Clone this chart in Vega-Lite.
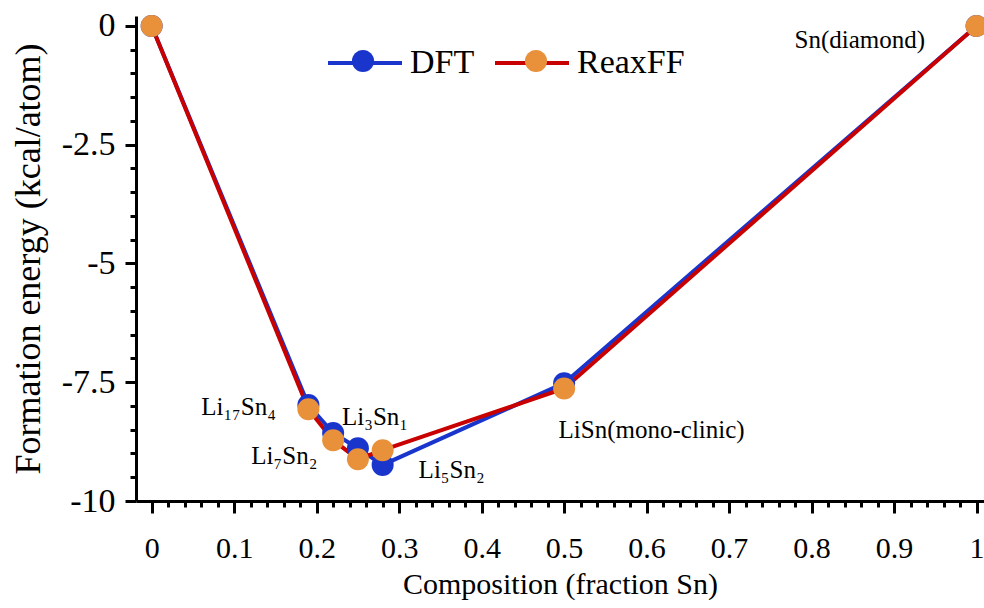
{
  "$schema": "https://vega.github.io/schema/vega-lite/v6.json",
  "width": 848,
  "height": 485,
  "autosize": {"type": "none"},
  "padding": {"left": 136, "top": 16, "right": 0, "bottom": 107},
  "background": "white",
  "config": {
    "view": {"stroke": null},
    "font": "Liberation Serif",
    "style": {
      "guide-label": {"font": "Liberation Serif", "fill": "black"},
      "guide-title": {"font": "Liberation Serif", "fill": "black", "fontWeight": "normal"}
    },
    "axis": {"labelFont": "Liberation Serif", "titleFont": "Liberation Serif", "titleFontWeight": "normal", "domainColor": "black", "tickColor": "black", "labelColor": "black", "titleColor": "black", "grid": false},
    "legend": {"labelFont": "Liberation Serif"}
  },
  "encoding": {
    "x": {"field": "x", "type": "quantitative",
      "scale": {"domain": [-0.019, 1.009], "nice": false, "zero": false},
      "axis": {
        "title": "Composition (fraction Sn)",
        "titleFont": "Liberation Serif", "titleFontSize": 30, "titlePadding": 6,
        "values": [0,0.02,0.04,0.06,0.08,0.1,0.12,0.14,0.16,0.18,0.2,0.22,0.24,0.26,0.28,0.3,0.32,0.34,0.36,0.38,0.4,0.42,0.44,0.46,0.48,0.5,0.52,0.54,0.56,0.58,0.6,0.62,0.64,0.66,0.68,0.7,0.72,0.74,0.76,0.78,0.8,0.82,0.84,0.86,0.88,0.9,0.92,0.94,0.96,0.98,1],
        "labelExpr": "round(datum.value*100) % 10 == 0 ? '' + datum.value : ''",
        "labelFont": "Liberation Serif", "labelFontSize": 30, "labelPadding": 20, "labelFlush": false, "labelOverlap": false,
        "domainWidth": 3,
        "tickWidth": 3,
        "tickSize": {"condition": {"test": "round(datum.value*100) % 10 == 0", "value": 12}, "value": 6}
      }},
    "y": {"field": "y", "type": "quantitative",
      "scale": {"domain": [-10, 0.21], "nice": false, "zero": false},
      "axis": {
        "title": "Formation energy (kcal/atom)",
        "titleFont": "Liberation Serif", "titleFontSize": 36, "titlePadding": 14,
        "values": [0,-0.5,-1,-1.5,-2,-2.5,-3,-3.5,-4,-4.5,-5,-5.5,-6,-6.5,-7,-7.5,-8,-8.5,-9,-9.5,-10],
        "labelExpr": "datum.value % 2.5 == 0 ? '' + datum.value : ''",
        "labelFont": "Liberation Serif", "labelFontSize": 34, "labelPadding": 10, "labelFlush": false, "labelOverlap": false,
        "domainWidth": 3,
        "tickWidth": 3,
        "tickSize": {"condition": {"test": "datum.value % 2.5 == 0", "value": 11}, "value": 6}
      }}
  },
  "layer": [
    {
      "data": {"values": [
        {"x": 0, "y": 0, "series": "DFT"},
        {"x": 0.19, "y": -7.98, "series": "DFT"},
        {"x": 0.22, "y": -8.57, "series": "DFT"},
        {"x": 0.25, "y": -8.89, "series": "DFT"},
        {"x": 0.28, "y": -9.24, "series": "DFT"},
        {"x": 0.5, "y": -7.52, "series": "DFT"},
        {"x": 1, "y": 0, "series": "DFT"},
        {"x": 0, "y": 0, "series": "ReaxFF"},
        {"x": 0.19, "y": -8.07, "series": "ReaxFF"},
        {"x": 0.22, "y": -8.72, "series": "ReaxFF"},
        {"x": 0.25, "y": -9.12, "series": "ReaxFF"},
        {"x": 0.28, "y": -8.93, "series": "ReaxFF"},
        {"x": 0.5, "y": -7.63, "series": "ReaxFF"},
        {"x": 1, "y": 0, "series": "ReaxFF"}
      ]},
      "layer": [
        {
          "mark": {"type": "line", "strokeWidth": 4},
          "encoding": {
            "color": {"field": "series", "type": "nominal",
              "scale": {"range": ["#1a35cc", "#c80000"]},
              "legend": {"orient": "none", "legendX": 190, "legendY": 8, "direction": "horizontal", "title": null,
                "symbolType": "stroke", "symbolSize": 5476, "symbolStrokeWidth": 4,
                "labelFont": "Liberation Serif", "labelFontSize": 34, "labelColor": "black", "labelOffset": 6, "columnPadding": 12, "padding": 0}}
          }
        },
        {
          "mark": {"type": "point", "filled": true, "size": 484, "opacity": 1, "strokeWidth": 0},
          "encoding": {
            "fill": {"field": "series", "type": "nominal",
              "scale": {"domain": ["DFT", "ReaxFF"], "range": ["#1a35cc", "#e8913a"]},
              "legend": {"orient": "none", "legendX": 190, "legendY": 8, "direction": "horizontal", "title": null,
                "symbolType": "M-1,0M1,0M-0.3,0A0.3,0.3,0,1,1,0.3,0A0.3,0.3,0,1,1,-0.3,0Z", "symbolSize": 5476, "symbolStrokeWidth": 0, "symbolOpacity": 1,
                "labelExpr": "''", "labelFontSize": 34, "labelOffset": 6, "columnPadding": 93, "padding": 0}}
          }
        }
      ]
    },
    {
      "data": {"values": [
        {"x": 0.060, "y": -8.02, "label": "Li₁₇Sn₄"},
        {"x": 0.2307, "y": -8.24, "label": "Li₃Sn₁"},
        {"x": 0.1208, "y": -9.05, "label": "Li₇Sn₂"},
        {"x": 0.3236, "y": -9.35, "label": "Li₅Sn₂"},
        {"x": 0.4933, "y": -8.5, "label": "LiSn(mono-clinic)"},
        {"x": 0.7794, "y": -0.295, "label": "Sn(diamond)"}
      ]},
      "mark": {"type": "text", "align": "left", "baseline": "middle", "font": "Liberation Serif", "fontSize": 25, "color": "black"},
      "encoding": {
        "text": {"field": "label"}
      }
    }
  ]
}
